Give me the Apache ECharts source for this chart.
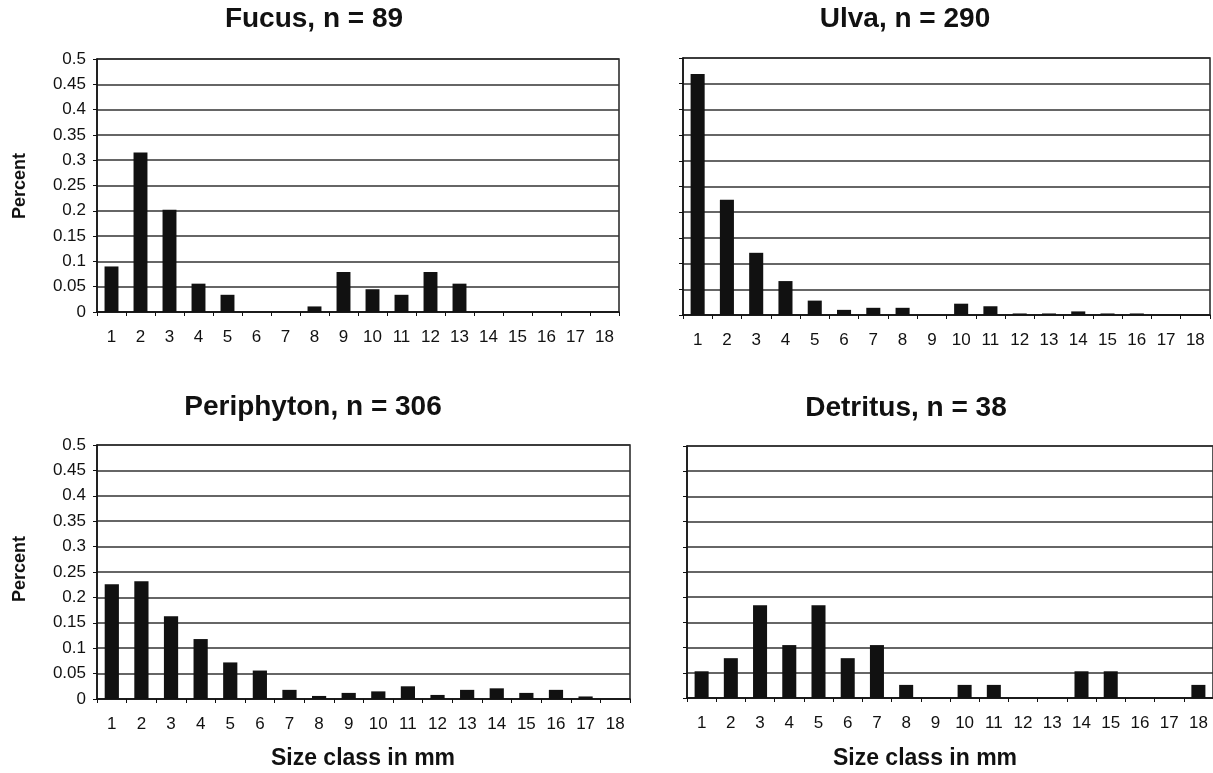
<!DOCTYPE html>
<html>
<head>
<meta charset="utf-8">
<title>Size class distributions</title>
<script src="https://cdn.jsdelivr.net/npm/echarts@6/dist/echarts.min.js"></script>
<style>
  html, body { margin: 0; padding: 0; background: #fff; }
  #chart { width: 1213px; height: 773px; }
</style>
</head>
<body>
<div id="chart"></div>
<script>
var sizeClasses = ['1','2','3','4','5','6','7','8','9','10','11','12','13','14','15','16','17','18'];

var fucus = [0.090, 0.315, 0.202, 0.056, 0.034, 0, 0, 0.011, 0.079, 0.045, 0.034, 0.079, 0.056, 0, 0, 0, 0, 0];
var ulva = [0.469, 0.224, 0.121, 0.066, 0.028, 0.010, 0.014, 0.014, 0, 0.022, 0.017, 0.003, 0.003, 0.007, 0.003, 0.003, 0, 0];
var periphyton = [0.226, 0.232, 0.163, 0.118, 0.072, 0.056, 0.018, 0.006, 0.012, 0.015, 0.025, 0.008, 0.018, 0.021, 0.012, 0.018, 0.005, 0];
var detritus = [0.053, 0.079, 0.184, 0.105, 0.184, 0.079, 0.105, 0.026, 0, 0.026, 0.026, 0, 0, 0.053, 0.053, 0, 0, 0.026];

var panelTitles = ['Fucus, n = 89', 'Ulva, n = 290', 'Periphyton, n = 306', 'Detritus, n = 38'];
var panelData = [fucus, ulva, periphyton, detritus];

var FONT = '"Liberation Sans", Arial, Helvetica, sans-serif';
var INK = '#111';

// panel boxes, in page pixels
var grids = [
	{left: 97,  top: 59,  width: 522, height: 253},
	{left: 683, top: 58,  width: 527, height: 257},
	{left: 97,  top: 445, width: 533, height: 254},
	{left: 687, top: 446, width: 532, height: 252}
];
var titlePos = [[314, 5], [905, 5], [313, 393], [906, 394]];

var option = {
	backgroundColor: '#fff',
	animation: false,
	title: [],
	grid: [],
	xAxis: [],
	yAxis: [],
	series: [],
	graphic: [
		{type: 'text', x: 20, y: 186, rotation: Math.PI / 2,
			style: {text: 'Percent', font: 'bold 18px ' + FONT, fill: INK, align: 'center', verticalAlign: 'middle'}},
		{type: 'text', x: 20, y: 569, rotation: Math.PI / 2,
			style: {text: 'Percent', font: 'bold 18px ' + FONT, fill: INK, align: 'center', verticalAlign: 'middle'}},
		{type: 'text', x: 363, y: 759,
			style: {text: 'Size class in mm', font: 'bold 23px ' + FONT, fill: INK, align: 'center', verticalAlign: 'middle'}},
		{type: 'text', x: 925, y: 759,
			style: {text: 'Size class in mm', font: 'bold 23px ' + FONT, fill: INK, align: 'center', verticalAlign: 'middle'}}
	]
};

for (var i = 0; i < 4; i++) {
	option.title.push({
		text: panelTitles[i],
		left: titlePos[i][0],
		top: titlePos[i][1],
		textAlign: 'center',
		padding: 0,
		textStyle: {fontFamily: FONT, fontSize: 28, fontWeight: 'bold', color: INK}
	});
	option.grid.push({
		left: grids[i].left, top: grids[i].top, width: grids[i].width, height: grids[i].height,
		show: true, borderColor: '#222', borderWidth: 1.5, containLabel: false
	});
	option.xAxis.push({
		type: 'category',
		gridIndex: i,
		data: sizeClasses,
		axisLine: {lineStyle: {color: INK, width: 1.5}},
		axisTick: {show: true, length: 4, lineStyle: {color: INK}},
		axisLabel: {interval: 0, color: INK, fontFamily: FONT, fontSize: 17, margin: 17}
	});
	option.yAxis.push({
		type: 'value',
		gridIndex: i,
		min: 0,
		max: 0.5,
		interval: 0.05,
		axisLine: {show: true, lineStyle: {color: INK, width: 1.5}},
		axisTick: {show: true, length: 4, lineStyle: {color: INK}},
		axisLabel: {show: i % 2 === 0, color: INK, fontFamily: FONT, fontSize: 17, margin: 11},
		splitLine: {show: true, lineStyle: {color: '#333', width: 1.5}}
	});
	option.series.push({
		type: 'bar',
		xAxisIndex: i,
		yAxisIndex: i,
		data: panelData[i],
		barWidth: '48%',
		itemStyle: {color: INK}
	});
}

var myChart = echarts.init(document.getElementById('chart'));
myChart.setOption(option);
</script>
</body>
</html>
